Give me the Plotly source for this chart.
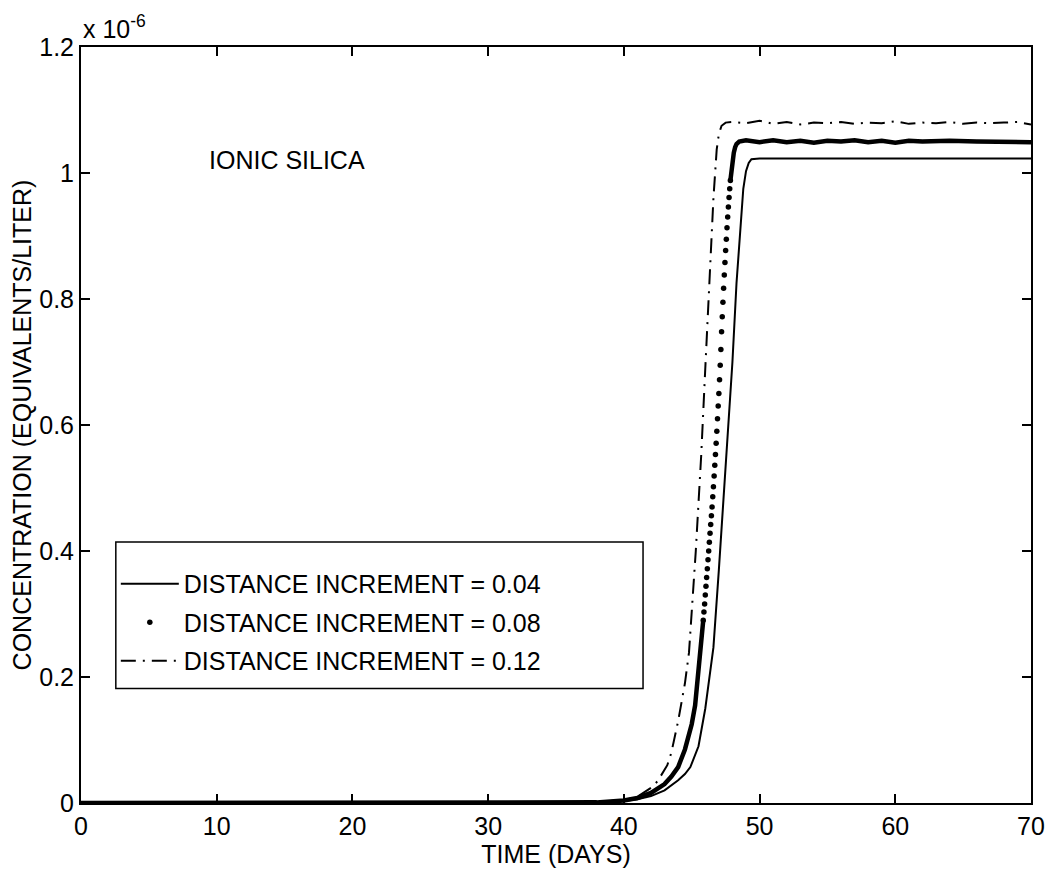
import plotly.graph_objects as go

# Breakthrough of ionic silica for three distance increments.
# Time in days, concentration in units of 1e-6 equivalents/liter.

t_004 = [0, 10, 20, 30, 36, 38, 40, 41, 42, 43, 44, 44.5, 44.9, 45.5, 46.0, 46.6,
         47.0, 47.6, 48.0, 48.3, 48.6, 48.8, 49.0, 49.2, 49.4, 50, 55, 60, 65, 70]
c_004 = [0, 0, 0, 0, 0, 0.001, 0.003, 0.006, 0.011, 0.020, 0.036, 0.046, 0.057, 0.090,
         0.150, 0.247, 0.370, 0.563, 0.700, 0.825, 0.925, 0.975, 1.003, 1.016, 1.022,
         1.023, 1.023, 1.023, 1.023, 1.023]

t_008 = [0, 10, 20, 30, 36, 38, 40, 41, 42, 43, 43.5, 44, 44.5, 45, 45.25, 45.5,
         45.55, 45.6, 45.65, 45.7, 45.75, 45.8, 45.85, 45.9, 45.95, 46.0,
         46.05, 46.1, 46.15, 46.2, 46.25, 46.3, 46.35, 46.4, 46.45, 46.5,
         46.55, 46.6, 46.65, 46.7, 46.75, 46.8, 46.85, 46.9, 46.95, 47.0,
         47.05, 47.1, 47.15, 47.2, 47.25, 47.3, 47.35, 47.4, 47.45, 47.5,
         47.55, 47.6, 47.65, 47.7, 47.75, 47.8, 47.85, 47.9, 47.95, 48.0,
         48.1, 48.2, 48.3, 48.5, 49, 50, 51, 52, 53, 54, 55, 56, 57, 58, 59,
         60, 61, 62, 64, 66, 68, 70]
c_008 = [0, 0, 0, 0, 0, 0.001, 0.004, 0.008, 0.016, 0.030, 0.042, 0.057, 0.085, 0.125,
         0.155, 0.205,
         0.216, 0.228, 0.239, 0.251, 0.264, 0.277, 0.290, 0.303, 0.316, 0.330,
         0.344, 0.358, 0.372, 0.386, 0.400, 0.414, 0.428, 0.442, 0.456, 0.470,
         0.486, 0.502, 0.519, 0.536, 0.553, 0.571, 0.590, 0.610, 0.630, 0.650,
         0.672, 0.695, 0.720, 0.748, 0.772, 0.795, 0.817, 0.838, 0.858, 0.877,
         0.895, 0.913, 0.930, 0.946, 0.961, 0.975, 0.988, 0.999, 1.010, 1.019,
         1.032, 1.041, 1.046, 1.050, 1.052, 1.049, 1.052, 1.049, 1.051, 1.048,
         1.051, 1.050, 1.052, 1.049, 1.051, 1.048, 1.051, 1.050, 1.051, 1.050,
         1.050, 1.049]

t_012 = [0, 10, 20, 30, 36, 38, 39, 40, 41, 42, 42.5, 43.2, 43.5, 44.0, 44.5, 44.8,
         45.3, 45.7, 46.0, 46.3, 46.6, 46.84, 47.0, 47.2, 47.5, 48, 49, 50, 51, 52,
         53, 54, 55, 56, 57, 58, 59, 60, 61, 62, 63, 64, 65, 66, 67, 68, 69, 70]
c_012 = [0, 0, 0, 0, 0, 0.001, 0.003, 0.005, 0.010, 0.024, 0.035, 0.060, 0.080, 0.130,
         0.190, 0.239, 0.400, 0.552, 0.690, 0.827, 0.960, 1.037, 1.062, 1.075, 1.080,
         1.081, 1.079, 1.083, 1.078, 1.081, 1.077, 1.080, 1.079, 1.081, 1.078, 1.080,
         1.079, 1.082, 1.078, 1.080, 1.079, 1.081, 1.078, 1.080, 1.079, 1.080, 1.081,
         1.077]

labels = ["DISTANCE INCREMENT = 0.04",
          "DISTANCE INCREMENT = 0.08",
          "DISTANCE INCREMENT = 0.12"]

# samples of the 0.08 run that are far enough apart to show as single dots
dot_span = (45.85, 47.85)

FONT = "Liberation Sans, Arial, Helvetica, sans-serif"

fig = go.Figure()

fig.add_trace(go.Scatter(
    x=t_004, y=c_004, mode="lines", name=labels[0], legendgroup="a",
    line=dict(color="black", width=2)))

# 0.08 run: densely sampled, the samples merge into a thick band where the
# curve is flat and separate into dots along the steep part of the front
c_008_band = [c if (t <= dot_span[0] or t >= dot_span[1]) else None
              for t, c in zip(t_008, c_008)]
fig.add_trace(go.Scatter(
    x=t_008, y=c_008_band, mode="lines", showlegend=False, legendgroup="b",
    line=dict(color="black", width=4.5), connectgaps=False, hoverinfo="skip"))
fig.add_trace(go.Scatter(
    x=[t for t in t_008 if dot_span[0] <= t <= dot_span[1]],
    y=[c for t, c in zip(t_008, c_008) if dot_span[0] <= t <= dot_span[1]],
    mode="markers", name=labels[1], legendgroup="b",
    marker=dict(color="black", size=5.5, line=dict(width=0))))

fig.add_trace(go.Scatter(
    x=t_012, y=c_012, mode="lines", name=labels[2], legendgroup="c",
    line=dict(color="black", width=2, dash="15px,7px,2px,7px")))

L, R, T, B = 81, 21, 47, 68
W, H = 1057, 874
pw, ph = W - L - R, H - T - B


def px_x(x):
    return (x - L) / pw


def px_y(y):
    return (H - B - y) / ph


fig.update_layout(
    width=W, height=H,
    margin=dict(l=L, r=R, t=T, b=B),
    paper_bgcolor="white", plot_bgcolor="white",
    font=dict(family=FONT, size=25, color="black"),
    showlegend=True,
    legend=dict(
        x=px_x(116), y=px_y(563), xanchor="left", yanchor="top",
        bgcolor="rgba(0,0,0,0)", borderwidth=0,
        font=dict(family=FONT, size=25, color="black"),
        tracegroupgap=3, itemwidth=58,
    ),
    shapes=[dict(
        type="rect", xref="paper", yref="paper",
        x0=px_x(116), x1=px_x(646), y0=px_y(691), y1=px_y(544),
        line=dict(color="black", width=1.5), fillcolor="rgba(0,0,0,0)",
    )],
    annotations=[
        dict(text="IONIC SILICA", x=9.3, y=1.021, xref="x", yref="y",
             xanchor="left", yanchor="middle", showarrow=False,
             font=dict(family=FONT, size=25, color="black")),
        dict(text="x 10<sup>-6</sup>", x=0, y=1, xref="paper", yref="paper",
             xanchor="left", yanchor="bottom", yshift=2, showarrow=False,
             font=dict(family=FONT, size=25, color="black")),
    ],
)

fig.update_xaxes(
    range=[0, 70], tickvals=[0, 10, 20, 30, 40, 50, 60, 70],
    ticks="inside", ticklen=9, tickwidth=1.5, tickcolor="black",
    showline=True, linecolor="black", linewidth=2, mirror="ticks",
    showgrid=False, zeroline=False,
    title=dict(text="TIME (DAYS)", standoff=4,
               font=dict(family=FONT, size=25, color="black")),
    tickfont=dict(family=FONT, size=25, color="black"),
)
fig.update_yaxes(
    range=[0, 1.2], tickvals=[0, 0.2, 0.4, 0.6, 0.8, 1.0, 1.2],
    ticktext=["0", "0.2", "0.4", "0.6", "0.8", "1", "1.2"],
    ticks="inside", ticklen=9, tickwidth=1.5, tickcolor="black",
    showline=True, linecolor="black", linewidth=2, mirror="ticks",
    showgrid=False, zeroline=False,
    title=dict(text="CONCENTRATION (EQUIVALENTS/LITER)", standoff=0,
               font=dict(family=FONT, size=25, color="black")),
    tickfont=dict(family=FONT, size=25, color="black"),
)

fig.write_html("out.html")
